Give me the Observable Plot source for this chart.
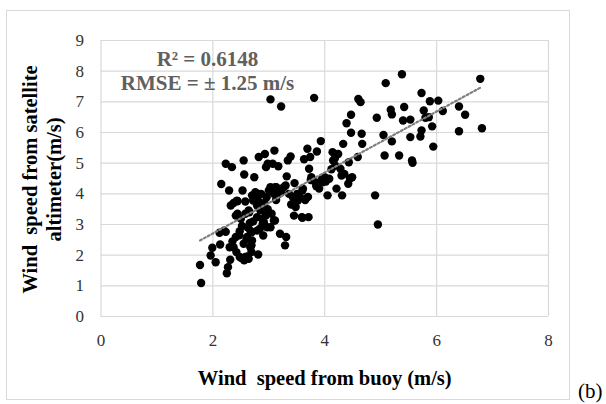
<!DOCTYPE html>
<html>
<head>
<meta charset="utf-8">
<script src="https://cdn.jsdelivr.net/npm/d3@7"></script>
<script src="https://cdn.jsdelivr.net/npm/@observablehq/plot@0.6"></script>
<style>
  html, body { margin: 0; padding: 0; background: #fff; }
  #wrap { position: relative; width: 606px; height: 404px; overflow: hidden; }
  #border { position: absolute; left: 6px; top: 10px; width: 564px; height: 390px; border: 1.5px solid #d9d9d9; box-sizing: border-box; }
  #tag { position: absolute; left: 578px; top: 381px; font: 21px "Liberation Serif", serif; color: #000; line-height: 1; }
  svg { overflow: visible; }
</style>
</head>
<body>
<div id="wrap">
  <div id="border"></div>
  <div id="chart"></div>
  <div id="tag">(b)</div>
</div>
<script>
// Wind speed from buoy (m/s)
const buoy = [
  1.77,1.79,1.96,1.99,2.05,2.12,2.13,2.15,2.23,2.23,2.25,2.27,2.29,2.30,2.31,2.34,2.32,2.37,2.37,2.41,
  2.41,2.42,2.44,2.48,2.51,2.53,2.55,2.56,2.56,2.58,2.58,2.60,2.62,2.62,2.65,2.67,2.69,2.70,2.72,2.74,
  2.75,2.79,2.81,2.82,2.84,2.86,2.88,2.89,2.90,2.93,2.95,2.96,3.00,3.03,3.03,3.07,3.09,3.10,3.11,3.13,
  3.13,3.17,3.20,3.22,3.27,3.29,3.31,3.32,3.34,3.36,3.39,3.43,3.45,3.46,3.48,3.52,3.59,3.61,3.63,3.65,
  3.69,3.71,3.72,3.74,3.76,3.81,3.83,3.86,3.90,3.93,3.96,4.00,4.05,4.08,4.14,4.15,4.19,4.21,4.24,4.28,
  4.31,4.33,4.35,4.39,4.42,4.43,4.47,4.47,4.49,4.59,4.60,4.64,4.66,4.67,4.90,4.93,4.95,5.05,5.07,5.09,
  5.18,5.20,5.20,5.33,5.38,5.40,5.42,5.53,5.53,5.56,5.57,5.71,5.73,5.73,5.77,5.80,5.86,5.88,5.92,5.94,
  6.03,6.11,6.40,6.40,6.51,6.78,6.81,
  2.98,3.03,3.12,3.21,3.30,3.51,3.60,3.66,3.60,2.43,2.44,2.50,2.64,2.79,2.79,2.85,2.88,2.91,2.97,2.79,
  2.69,2.61,2.55,2.67,2.69,2.58,2.64,2.91,3.09,2.20,2.48,2.70,2.76,2.82,2.92,2.98,3.05,2.95,2.72,2.66,
  2.52,2.47,2.35,3.15,3.22,3.40,3.55,3.70,3.75,3.85,3.95,4.02,4.12,4.18,4.30,4.45
];
// Wind speed from satellite altimeter (m/s)
const altimeter = [
  1.68,1.09,1.99,2.24,1.77,2.73,2.35,4.32,4.98,2.76,1.41,1.61,4.11,2.26,1.85,4.87,3.62,3.70,2.26,2.59,
  3.29,2.10,3.76,2.78,1.91,4.11,5.09,4.63,1.83,3.75,3.35,2.53,2.91,1.96,3.40,2.80,2.32,2.48,3.78,4.54,
  3.91,3.24,2.02,5.20,2.86,4.00,3.57,3.02,2.64,5.30,4.87,3.89,4.11,7.08,2.91,4.98,4.00,5.41,3.13,4.22,
  3.80,4.90,2.70,6.85,4.22,2.32,2.59,4.57,5.09,4.00,5.22,3.89,3.29,4.35,3.57,3.78,3.24,4.17,5.13,3.80,
  5.47,3.24,4.82,5.20,4.54,7.13,4.38,5.38,4.17,5.72,4.38,4.54,3.95,4.49,5.36,5.09,4.92,4.17,5.30,4.82,
  3.95,5.63,4.65,6.30,4.33,5.03,6.58,5.99,4.54,5.20,7.09,6.99,5.96,5.63,3.95,6.48,3.00,5.92,5.25,7.61,
  6.74,6.59,5.71,5.25,7.90,6.39,6.83,6.42,5.85,5.09,5.01,5.87,7.29,6.07,6.72,6.48,6.50,7.02,6.20,5.54,
  7.04,6.70,6.85,6.04,6.58,7.75,6.14,
  4.98,4.22,4.22,4.16,4.27,4.00,4.11,3.84,3.22,3.78,3.35,3.19,3.46,3.89,3.62,3.46,3.19,3.02,2.91,2.80,
  2.75,2.59,2.37,2.26,2.10,1.94,1.88,3.08,3.13,2.80,1.94,3.95,4.05,3.75,3.70,3.50,3.35,3.30,3.10,3.05,
  2.95,2.65,2.45,3.95,4.05,3.65,3.90,3.90,4.45,4.25,4.48,4.40,4.80,5.15,4.60,4.50
];
// Dotted trend line ends
const trendX = [1.77, 6.78];
const trendY = [2.48, 7.46];
const xTicks = [0, 2, 4, 6, 8];
const yTicks = [0, 1, 2, 3, 4, 5, 6, 7, 8, 9];
const xTitle = "Wind  speed from buoy (m/s)";
const yTitle = "Wind  speed from satellite\naltimeter(m/s)";
const note = "R² = 0.6148\nRMSE = ± 1.25 m/s";

const points = buoy.map((b, i) => ({x: b, y: altimeter[i]}));
const trend = trendX.map((x, i) => ({x, y: trendY[i]}));

const chart = Plot.plot({
  width: 606,
  height: 404,
  marginLeft: 100.5,
  marginRight: 58,
  marginTop: 40,
  marginBottom: 88,
  style: {fontFamily: "'Liberation Serif', serif", fontSize: "17px", color: "#404040", background: "transparent", overflow: "visible"},
  x: {domain: [0, 8]},
  y: {domain: [0, 9]},
  marks: [
    Plot.gridX(xTicks, {stroke: "#d9d9d9", strokeOpacity: 1, strokeWidth: 1.2}),
    Plot.gridY(yTicks, {stroke: "#d9d9d9", strokeOpacity: 1, strokeWidth: 1.2}),
    Plot.axisX(xTicks, {tickSize: 0, tickPadding: 17, fontSize: 17, label: null, fill: "#333"}),
    Plot.axisY(yTicks, {tickSize: 0, tickPadding: 17, fontSize: 17, label: null, fill: "#333"}),
    Plot.dot(points, {x: "x", y: "y", r: 4.2, fill: "#000", stroke: "none"}),
    Plot.line(trend, {x: "x", y: "y", stroke: "#7f7f7f", strokeWidth: 2.2, strokeDasharray: "2 2.4"}),
    Plot.text([note], {frameAnchor: "top-left", dx: 106.5, dy: 30, text: d => d, textAnchor: "middle", lineAnchor: "middle", lineHeight: 1.15, fontSize: 21, fontWeight: "bold", fill: "#606060"}),
    Plot.text([xTitle], {frameAnchor: "bottom", dy: 62, text: d => d, textAnchor: "middle", lineAnchor: "middle", fontSize: 20.5, fontWeight: "bold", fill: "#000"}),
    Plot.text([yTitle], {frameAnchor: "left", dx: -59.5, dy: 1, text: d => d, rotate: -90, textAnchor: "middle", lineAnchor: "middle", lineHeight: 1.17, fontSize: 20.5, fontWeight: "bold", fill: "#000"})
  ]
});
document.getElementById("chart").appendChild(chart);
document.querySelectorAll("#chart text, #chart tspan").forEach(t => { t.setAttribute("xml:space", "preserve"); t.style.whiteSpace = "pre"; });
</script>
</body>
</html>
